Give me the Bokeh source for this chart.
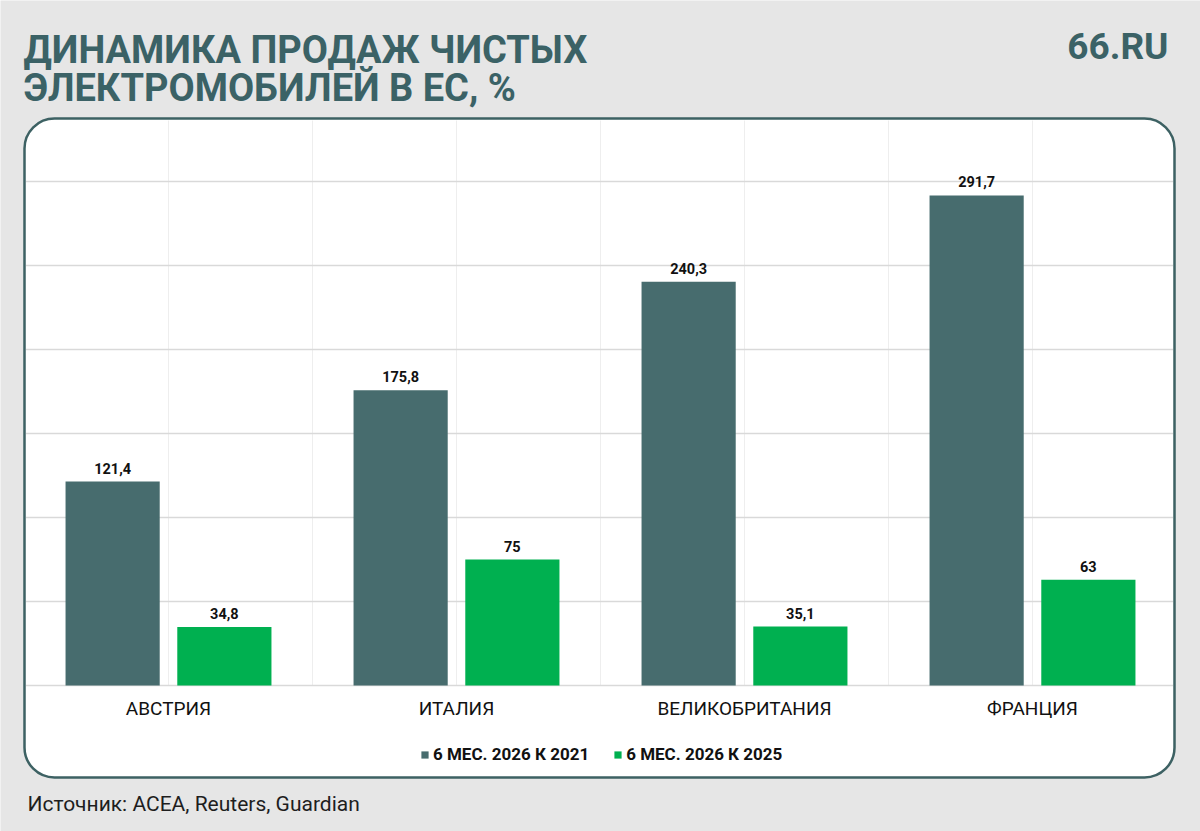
from bokeh.plotting import figure
from bokeh.models import ColumnDataSource, BoxAnnotation, Legend, LegendItem, Range1d
from bokeh.embed import file_html
from bokeh.resources import INLINE
from bokeh.core.properties import value
from bokeh.transform import dodge

# ---------------- data ----------------
categories = ["АВСТРИЯ", "ИТАЛИЯ", "ВЕЛИКОБРИТАНИЯ", "ФРАНЦИЯ"]
series_2021 = [121.4, 175.8, 240.3, 291.7]
series_2025 = [34.8, 75, 35.1, 63]
series_names = ["6 МЕС. 2026 К 2021", "6 МЕС. 2026 К 2025"]
y_ticks = [0, 50, 100, 150, 200, 250, 300]
title_lines = ["ДИНАМИКА ПРОДАЖ ЧИСТЫХ", "ЭЛЕКТРОМОБИЛЕЙ В ЕС, %"]
brand = "66.RU"
source_note = "Источник: ACEA, Reuters, Guardian"

# ---------------- styles ----------------
BG = "#e6e6e6"
TEAL = "#3b6266"
DARK = "#476c6e"
GREEN = "#00b050"
GRID = "#d9d9d9"
VGRID = "#eeeeee"
FONT = value("Roboto")

W, H = 1200, 831           # figure size (the page has no margin)
ORIGIN_X, BASE_Y = 24, 685  # page px of x=0 and y=0
CAT_PX = 288               # px per category
UNIT_PX = 84 / 50          # px per y unit


def dx(px):
    return (px - ORIGIN_X) / CAT_PX


def dy(py):
    return (BASE_Y - py) / UNIT_PX


def fmt(v):
    return f"{v:g}".replace(".", ",")


xs = [i + 0.5 for i in range(len(categories))]
src = ColumnDataSource(dict(
    x=xs, cat=categories,
    a=series_2021, b=series_2025,
    la=[fmt(v) for v in series_2021], lb=[fmt(v) for v in series_2025],
))

p = figure(width=W, height=H, output_backend="svg", toolbar_location=None,
           x_axis_type=None, y_axis_type=None,
           x_range=Range1d(dx(0), dx(W)), y_range=Range1d(dy(H), dy(0)),
           min_border=0)
p.outline_line_color = None
p.background_fill_color = BG
p.border_fill_color = BG

# card
card = BoxAnnotation(left=dx(24), right=dx(1174), top=dy(118), bottom=dy(777),
                     fill_color="white", fill_alpha=1, line_color="#3d6163",
                     line_alpha=1, line_width=2.5, border_radius=30,
                     level="underlay")
p.add_layout(card)

# grid lines
vx = [0.5 * k for k in range(1, 2 * len(categories))]
p.segment(x0=vx, x1=vx, y0=[0] * len(vx), y1=[dy(120)] * len(vx),
          line_color=VGRID, line_width=1)
p.segment(x0=[dx(25.5)] * len(y_ticks), x1=[dx(1172.5)] * len(y_ticks),
          y0=y_ticks, y1=y_ticks, line_color=GRID, line_width=1.3)

OFF = 0.194
BW = 0.327
r1 = p.vbar(x=dodge("x", -OFF), top="a", width=BW, source=src,
            fill_color=DARK, line_color=None)
r2 = p.vbar(x=dodge("x", OFF), top="b", width=BW, source=src,
            fill_color=GREEN, line_color=None)

lbl_kw = dict(text_align="center", text_baseline="bottom", y_offset=-8,
              text_font=FONT, text_font_style="bold", text_font_size="14.5px",
              text_color="#111111", source=src)
p.text(x=dodge("x", -OFF), y="a", text="la", **lbl_kw)
p.text(x=dodge("x", OFF), y="b", text="lb", **lbl_kw)

# category labels
p.text(x="x", y=0, text="cat", source=src, text_align="center",
       text_baseline="middle", y_offset=23, text_font=FONT,
       text_font_size="19px", text_color="#111111")

# legend
legend = Legend(items=[LegendItem(label=series_names[0], renderers=[r1]),
                       LegendItem(label=series_names[1], renderers=[r2])],
                orientation="horizontal", location=(420, 67),
                glyph_width=9, glyph_height=9, label_standoff=4, spacing=24,
                padding=0, margin=0, label_height=16,
                label_text_font="Roboto", label_text_font_style="bold",
                label_text_font_size="17px", label_text_color="#111111",
                border_line_color=None, background_fill_alpha=0)
p.add_layout(legend)

# titles and notes
p.text(x=[dx(23)] * 2, y=[dy(49), dy(87.5)], text=title_lines,
       text_font=FONT, text_font_style="bold", text_font_size="38px",
       text_color=TEAL, text_baseline="alphabetic", text_align="left")
p.text(x=[dx(1168)], y=[dy(46)], text=[brand], text_font=FONT,
       text_font_style="bold", text_font_size="37px", text_color=TEAL,
       text_baseline="alphabetic", text_align="right")
p.text(x=[dx(27)], y=[dy(803)], text=[source_note], text_font=FONT,
       text_font_size="21px", text_color="#1e1e1e",
       text_baseline="alphabetic", text_align="left")

open("out.html", "w").write(file_html(p, INLINE))
